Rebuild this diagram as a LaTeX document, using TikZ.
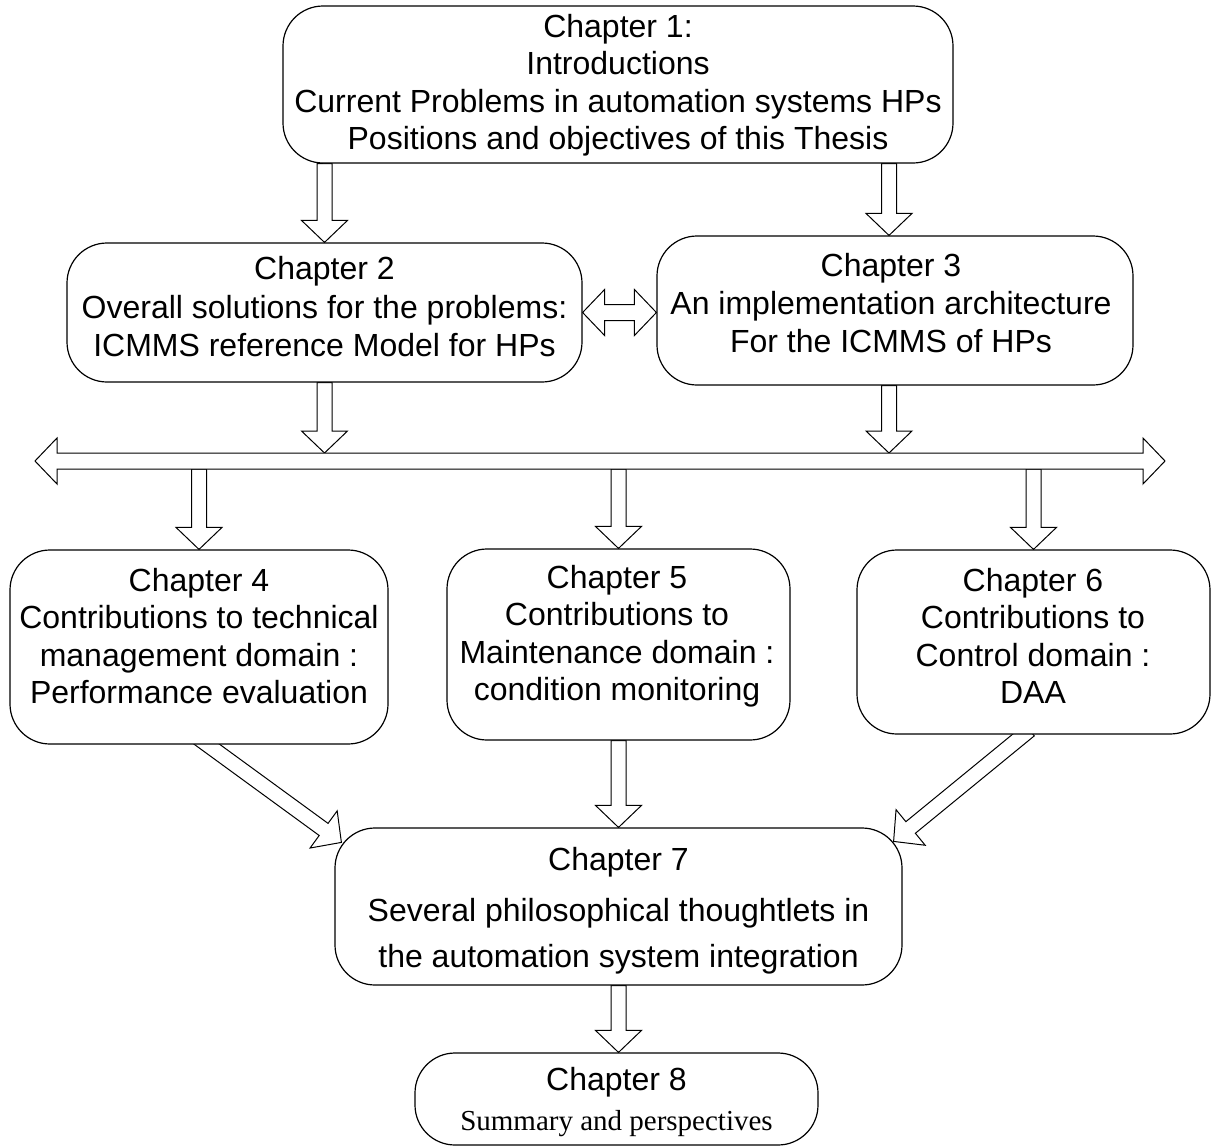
\documentclass[tikz,border=0pt]{standalone}
\usepackage{fontspec}
\setmainfont{Liberation Sans}
\newfontfamily\serifchfont{Liberation Serif}
\usetikzlibrary{calc}
\pgfdeclarelayer{bg}
\pgfsetlayers{bg,main}
\tikzset{
  chbox/.style={draw, line width=1.2pt, fill=white, rounded corners=40pt, inner sep=0pt},
  chtext/.style={align=center, font=\fontsize{32}{37.5}\selectfont, inner sep=0pt},
  arrowbody/.style={draw, line width=1pt, fill=white, line join=miter},
}
\newcommand\chbarrow[2]{%
  \path (#1) coordinate (ba-s) (#2) coordinate (ba-e);
  \path ($(ba-e)!22pt!(ba-s)$) coordinate (ba-h);
  \draw[arrowbody] ($(ba-s)!7.5pt!90:(ba-e)$) -- ($(ba-h)!7.5pt!90:(ba-e)$)
    -- ($(ba-h)!23pt!90:(ba-e)$) -- (ba-e) -- ($(ba-h)!23pt!-90:(ba-e)$)
    -- ($(ba-h)!7.5pt!-90:(ba-e)$) -- ($(ba-s)!7.5pt!-90:(ba-e)$) -- cycle;}
\newcommand\chdarrow[2]{%
  \path (#1) coordinate (da-s) (#2) coordinate (da-e);
  \path ($(da-s)!22pt!(da-e)$) coordinate (da-hs) ($(da-e)!22pt!(da-s)$) coordinate (da-he);
  \draw[arrowbody] (da-s) -- ($(da-hs)!23pt!90:(da-e)$) -- ($(da-hs)!8pt!90:(da-e)$)
    -- ($(da-he)!8pt!90:(da-e)$) -- ($(da-he)!23pt!90:(da-e)$) -- (da-e)
    -- ($(da-he)!23pt!-90:(da-e)$) -- ($(da-he)!8pt!-90:(da-e)$)
    -- ($(da-hs)!8pt!-90:(da-e)$) -- ($(da-hs)!23pt!-90:(da-e)$) -- cycle;}
\begin{document}
\begin{tikzpicture}[x=1pt,y=1pt]
\useasboundingbox (0,0) rectangle (1211,-1146);
% boxes
\node[chbox, minimum width=670pt, minimum height=157pt] (c1) at (618,-84.5) {};
\node[chbox, minimum width=515pt, minimum height=139pt] (c2) at (324.5,-312.5) {};
\node[chbox, minimum width=476pt, minimum height=149pt] (c3) at (895,-310.5) {};
\node[chbox, minimum width=378pt, minimum height=194pt] (c4) at (199,-647) {};
\node[chbox, minimum width=343pt, minimum height=191pt] (c5) at (618.5,-644.5) {};
\node[chbox, minimum width=353pt, minimum height=184pt] (c6) at (1033.5,-642) {};
\node[chbox, minimum width=567pt, minimum height=157pt] (c7) at (618.5,-906.5) {};
\node[chbox, minimum width=403pt, minimum height=92pt] (c8) at (616.5,-1099) {};
% texts
\node[chtext] (t1) at (618,-85) {Chapter 1:\\Introductions\\Current Problems in automation systems HPs\\Positions and objectives of this Thesis};
\node[chtext, font=\fontsize{32}{38.5}\selectfont] (t2) at (324.5,-307) {Chapter 2\\Overall solutions for the problems:\\ICMMS reference Model for HPs};
\node[chtext, font=\fontsize{32}{38}\selectfont] (t3) at (891,-303) {Chapter 3\\An implementation architecture\\For the ICMMS of HPs};
\node[chtext] (t4) at (199,-636) {Chapter 4\\Contributions to technical\\management domain :\\ Performance evaluation};
\node[chtext] (t5) at (617,-636) {Chapter 5\\Contributions to\\Maintenance domain :\\ condition monitoring};
\node[chtext] (t6) at (1033,-636) {Chapter 6\\Contributions to\\Control domain :\\DAA};
\node[chtext, font=\fontsize{32}{46}\selectfont] (t7) at (618.5,-911) {Chapter 7\\[5pt]Several philosophical thoughtlets in\\the automation system integration};
\node[chtext, font=\fontsize{32}{40}\selectfont] (t8) at (616.5,-1102) {Chapter 8\\{\serifchfont\fontsize{29}{40}\selectfont Summary and perspectives}};
% bar
\coordinate (barL) at (35,-461);
\coordinate (barR) at (1165,-461);
\coordinate (bartop) at (0,-453);
\coordinate (barbot) at (0,-469);
\chdarrow{barL}{barR}
\coordinate (a3x) at ([xshift=-6pt]c3.south);
\coordinate (a3n) at ([xshift=-6pt]c3.north);
\coordinate (d4s) at ([shift={(-4pt,9pt)}]c4.south);
\coordinate (d4e) at ([shift={(7pt,-15pt)}]c7.north west);
\coordinate (d6s) at ([shift={(-4pt,4.5pt)}]c6.south);
\coordinate (d6e) at ([shift={(-9pt,-14pt)}]c7.north east);
\begin{pgfonlayer}{bg}
\chbarrow{c1.south -| c2.north}{c2.north}
\chbarrow{c1.south -| a3n}{a3n}
\chdarrow{c2.east}{c2.east -| c3.west}
\chbarrow{c2.south}{c2.south |- bartop}
\chbarrow{a3x}{a3x |- bartop}
\chbarrow{c4.north |- barbot}{c4.north}
\chbarrow{c5.north |- barbot}{c5.north}
\chbarrow{c6.north |- barbot}{c6.north}
\chbarrow{c7.north |- c5.south}{c7.north}
\chbarrow{d4s}{d4e}
\chbarrow{d6s}{d6e}
\chbarrow{c7.south}{c7.south |- c8.north}
\end{pgfonlayer}
\end{tikzpicture}
\end{document}
